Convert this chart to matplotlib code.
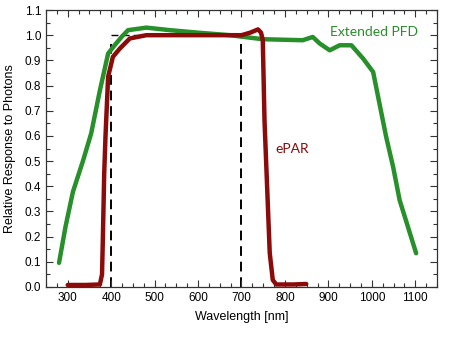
import matplotlib
matplotlib.use("Agg")
import matplotlib.pyplot as plt
from matplotlib.ticker import MultipleLocator

# Extended PFD sensor response (green)
pfd_wl = [280, 295, 312, 335, 354, 374, 393, 408, 425, 439, 460, 481, 535, 600, 673,
          749, 841, 864, 880, 903, 926, 953, 980, 1003, 1033, 1049, 1064, 1102]
pfd_resp = [0.096, 0.24, 0.378, 0.50, 0.61, 0.78, 0.927, 0.96, 0.995, 1.02, 1.025, 1.03, 1.02,
            1.01, 1.0, 0.984, 0.98, 0.993, 0.967, 0.94, 0.96, 0.96, 0.907, 0.854,
            0.596, 0.477, 0.345, 0.134]

# ePAR sensor response (dark red)
epar_wl = [300, 340, 374, 379, 381, 384, 387, 393, 404, 420, 443, 481, 550, 620, 700,
           720, 738, 745, 749, 753, 765, 772, 780, 820, 849]
epar_resp = [0.008, 0.008, 0.01, 0.05, 0.2, 0.45, 0.6, 0.835, 0.914, 0.947, 0.987, 1.0, 1.0,
             1.0, 1.0, 1.01, 1.023, 1.01, 0.98, 0.66, 0.135, 0.028, 0.01, 0.01, 0.012]

# PAR box
par_wl = [400, 400, 700, 700]
par_resp = [0.0, 1.0, 1.0, 0.0]

fig = plt.figure(figsize=(4.5, 3.38), dpi=100)
ax = fig.add_axes([0.1022, 0.1509, 0.8689, 0.8195])

green = "#27902a"
red = "#8b0a0a"

ax.plot([400, 400], [0, 0.99], color="black", lw=1.4, dashes=(5, 3), zorder=1)
ax.plot([700, 700], [0, 0.99], color="black", lw=1.4, dashes=(5, 3), zorder=1)
ax.plot([400, 700], [1.0, 1.0], color="black", lw=1.0, dashes=(5, 3), zorder=1)

ax.plot(pfd_wl, pfd_resp, color=green, lw=3.2, solid_capstyle="round", zorder=2)
ax.plot(epar_wl, epar_resp, color=red, lw=3.2, solid_capstyle="round", zorder=3)

ax.text(903, 1.014, "Extended PFD", color=green, fontsize=10, family="Lato",
        ha="left", va="center")
ax.text(779, 0.55, "ePAR", color=red, fontsize=10, family="Lato",
        ha="left", va="center")

ax.set_xlim(250, 1150)
ax.set_ylim(0, 1.1)
ax.xaxis.set_major_locator(MultipleLocator(100))
ax.xaxis.set_minor_locator(MultipleLocator(25))
ax.yaxis.set_major_locator(MultipleLocator(0.1))
ax.yaxis.set_minor_locator(MultipleLocator(0.05))
ax.set_xticks(range(300, 1101, 100))
ax.tick_params(which="both", direction="in", top=True, right=True, colors="#333333",
               labelcolor="black", labelsize=8.5)
ax.tick_params(which="major", length=5, width=0.8)
ax.tick_params(which="minor", length=3, width=0.8)
ax.yaxis.set_major_formatter(matplotlib.ticker.FormatStrFormatter("%.1f"))
for lab in ax.get_xticklabels() + ax.get_yticklabels():
    lab.set_family("Liberation Sans")
for s in ax.spines.values():
    s.set_color("#333333")
    s.set_linewidth(0.9)

ax.set_xlabel("Wavelength [nm]", fontsize=9, family="Liberation Sans", labelpad=5)
ax.set_ylabel("Relative Response to Photons", fontsize=9, family="Liberation Sans", labelpad=6)

fig.savefig("out.png", dpi=100)
